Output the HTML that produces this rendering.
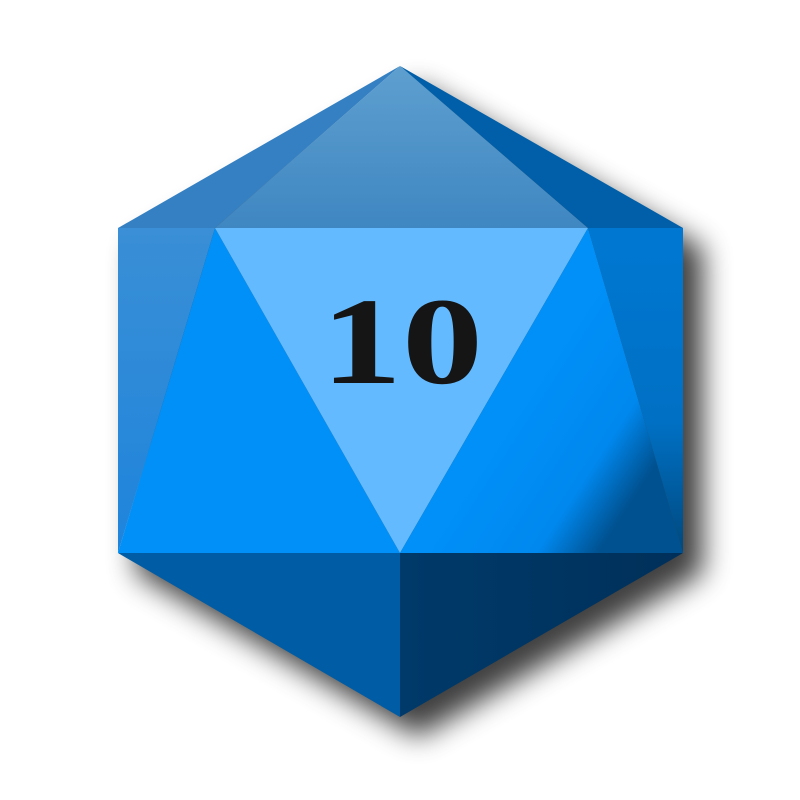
<!DOCTYPE html>
<html><head><meta charset="utf-8"><style>
html,body{margin:0;padding:0;background:#fff;width:800px;height:800px;overflow:hidden}
</style></head><body>
<svg width="800" height="800" viewBox="0 0 800 800" xmlns="http://www.w3.org/2000/svg">
<defs>
<filter id="sh" x="-20%" y="-20%" width="140%" height="140%"><feGaussianBlur stdDeviation="14"/></filter>
<linearGradient id="gTop" x1="0" y1="0" x2="0" y2="1"><stop offset="0" stop-color="#5e9fcf"/><stop offset="1" stop-color="#3f87c2"/></linearGradient>
<linearGradient id="gLeft" x1="0" y1="0" x2="0" y2="1"><stop offset="0" stop-color="#3a8fd6"/><stop offset="1" stop-color="#1e84dc"/></linearGradient>
<linearGradient id="gRight" x1="0.45" y1="0.5" x2="0.85" y2="0.8"><stop offset="0" stop-color="#0090f8"/><stop offset="0.65" stop-color="#0088ee"/><stop offset="1" stop-color="#00518f"/></linearGradient>
<linearGradient id="gRR" x1="0" y1="0" x2="0" y2="1"><stop offset="0" stop-color="#0078d2"/><stop offset="0.6" stop-color="#0070c4"/><stop offset="1" stop-color="#00497e"/></linearGradient>
<linearGradient id="gBR" x1="0" y1="0" x2="1" y2="0"><stop offset="0" stop-color="#003a6a"/><stop offset="1" stop-color="#00305a"/></linearGradient>
</defs>
<polygon points="418,86 703,248 703,573 418,737 136,573 136,248" fill="#000" opacity="0.75" filter="url(#sh)"/>
<polygon points="400,66 118,228 215,228" fill="#3580c2"/>
<polygon points="400,66 215,228 588,228" fill="url(#gTop)"/>
<polygon points="400,66 588,228 683,228" fill="#005fa8"/>
<polygon points="118,228 215,228 118,553" fill="url(#gLeft)"/>
<polygon points="215,228 400,553 118,553" fill="#0090f8"/>
<polygon points="215,228 588,228 400,553" fill="#64baff"/>
<polygon points="588,228 683,553 400,553" fill="url(#gRight)"/>
<polygon points="588,228 683,228 683,553" fill="url(#gRR)"/>
<polygon points="118,553 400,553 400,717" fill="#005ca4"/>
<polygon points="400,553 683,553 400,717" fill="url(#gBR)"/>
<text x="321" y="383" textLength="162" lengthAdjust="spacingAndGlyphs" font-family="Liberation Serif, serif" font-weight="bold" font-size="124" fill="#151515">10</text>
</svg>
</body></html>
